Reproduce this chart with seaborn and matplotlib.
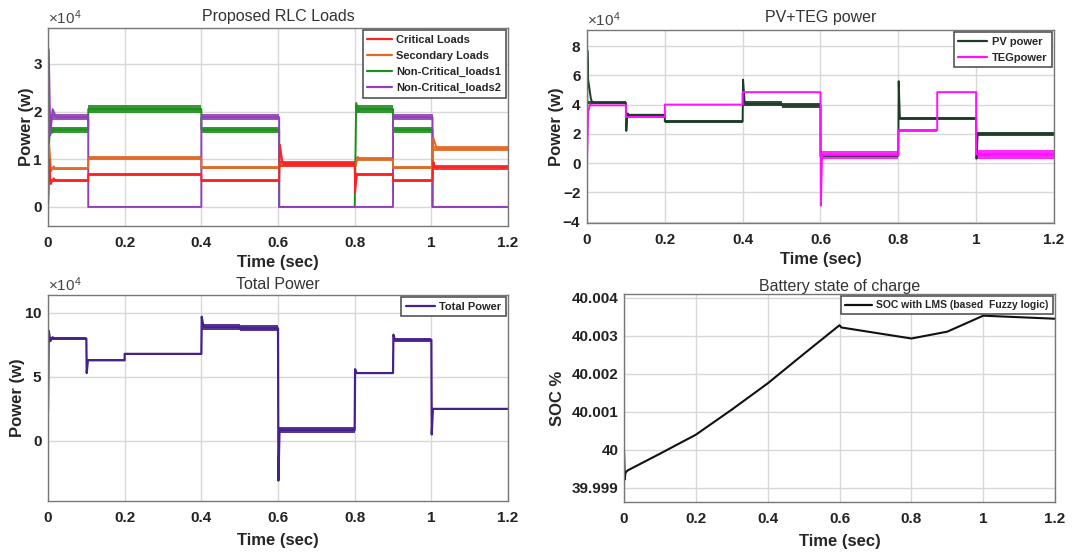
import numpy as np
import matplotlib
matplotlib.use("Agg")
import matplotlib.pyplot as plt
from matplotlib.ticker import FuncFormatter, ScalarFormatter
import seaborn as sns

# ---- data (power values in units of 1e4 W) ----
load_edges = [0, 0.105, 0.4, 0.603, 0.8, 0.9, 1.003, 1.2]

crit_lvl = [0.55, 0.68, 0.55, 0.90, 0.68, 0.55, 0.83]
crit_rip = [0.03, 0.03, 0.03, 0.06, 0.03, 0.03, 0.05]
crit_spk = {0: [(0, 0), (0.003, 1.0), (0.007, 0.48), (0.015, 0.6)],
            3: [(0.002, 1.3), (0.008, 0.95)],
            4: [(0.001, 0.3), (0.006, 0.7)],
            6: [(0.002, 0.95)]}

sec_lvl = [0.80, 1.02, 0.82, 0.90, 1.00, 0.82, 1.22]
sec_rip = [0.03, 0.04, 0.03, 0.05, 0.04, 0.03, 0.05]
sec_spk = {0: [(0, 0), (0.003, 1.3), (0.008, 0.75), (0.015, 0.85)],
           4: [(0.002, 0.85), (0.008, 1.05)],
           6: [(0.002, 1.45), (0.01, 1.25)]}

nc1_lvl = [1.62, 2.05, 1.62, 0, 2.05, 1.62, 0]
nc1_rip = [0.06, 0.08, 0.06, 0, 0.08, 0.06, 0]
nc1_spk = {0: [(0, 0), (0.003, 1.35), (0.006, 1.8), (0.01, 1.55)],
           4: [(0, 0), (0.004, 2.18), (0.01, 2.0)]}

nc2_lvl = [1.88, 0, 1.88, 0, 0, 1.88, 0]
nc2_rip = [0.06, 0, 0.06, 0, 0, 0.06, 0]
nc2_spk = {0: [(0, 0), (0.002, 3.3), (0.006, 1.5), (0.012, 2.05), (0.02, 1.9)]}

src_edges = [0, 0.1, 0.2, 0.4, 0.5, 0.6, 0.8, 0.9, 1.0, 1.2]

pv_lvl = [4.12, 3.30, 2.85, 4.05, 3.95, 0.50, 3.05, 3.05, 2.00]
pv_rip = [0.10, 0.08, 0.10, 0.18, 0.18, 0.10, 0.12, 0.12, 0.12]
pv_spk = {0: [(0, 0), (0.001, 7.7), (0.003, 5.7), (0.01, 4.4)],
          1: [(0.001, 2.2), (0.004, 3.4)],
          3: [(0.001, 5.7), (0.005, 4.2)],
          6: [(0.001, 5.6), (0.004, 3.1)],
          8: [(0.001, 0.3), (0.004, 2.0)]}

teg_lvl = [3.95, 3.15, 4.00, 4.85, 4.85, 0.55, 2.25, 4.85, 0.60]
teg_rip = [0.05, 0.05, 0.03, 0.03, 0.03, 0.25, 0.10, 0.03, 0.30]
teg_spk = {0: [(0, 0), (0.003, 3.5), (0.008, 4.0)],
           5: [(0.001, -2.9), (0.004, 0.5)]}

tot_lvl = [8.0, 6.3, 6.8, 8.9, 8.8, 0.85, 5.3, 7.9, 2.5]
tot_rip = [0.15, 0.06, 0.08, 0.22, 0.25, 0.22, 0.06, 0.15, 0.10]
tot_spk = {0: [(0, 2.3), (0.002, 8.6), (0.006, 7.8), (0.012, 8.1)],
           1: [(0.001, 5.3), (0.004, 6.3)],
           3: [(0.001, 9.7), (0.005, 9.0)],
           5: [(0.001, -3.1), (0.004, 0.9)],
           6: [(0.001, 5.6)],
           7: [(0.001, 8.3), (0.005, 7.9)],
           8: [(0.001, 0.5), (0.004, 2.5)]}

soc_t = [0, 0.002, 0.004, 0.01, 0.1, 0.2, 0.3, 0.4, 0.5, 0.6, 0.605, 0.8, 0.9, 1.0, 1.2]
soc_v = [40.0, 39.99922, 39.9994, 39.99946, 39.9999, 40.0004, 40.00106, 40.00175,
         40.00252, 40.00328, 40.00322, 40.00293, 40.00311, 40.00353, 40.00345]

x_ticks = [0, 0.2, 0.4, 0.6, 0.8, 1.0, 1.2]


def trace(edges, levels, spikes):
    t, p = [], []
    for i, lv in enumerate(levels):
        pts = spikes.get(i, [])
        for dt, v in pts:
            t.append(edges[i] + dt)
            p.append(v)
        settle = edges[i] + (pts[-1][0] + 0.004 if pts else 0)
        t.append(settle)
        p.append(lv)
        t.append(edges[i + 1])
        p.append(lv)
    return np.array(t), np.array(p) * 1e4


def draw(ax, edges, levels, rip, spikes, color, lw=1.4):
    lv = np.array(levels + [levels[-1]])
    rp = np.array(rip + [rip[-1]])
    ax.fill_between(edges, (lv - rp) * 1e4, (lv + rp) * 1e4, step="post",
                    color=color, lw=0, alpha=0.9)
    t, p = trace(edges, levels, spikes)
    sns.lineplot(x=t, y=p, ax=ax, color=color, lw=lw, sort=False,
                 estimator=None, legend=False)


def add_legend(ax, handles, labels, size, hlen, spacing=0.55):
    leg = ax.legend(handles, labels, loc="upper right",
                    handlelength=hlen, handletextpad=0.4, borderpad=0.4,
                    labelspacing=spacing, borderaxespad=0.2, fancybox=False,
                    framealpha=1, edgecolor="#555555",
                    prop={"family": ["Liberation Sans Narrow", "Liberation Sans"],
                          "weight": "bold", "size": size})
    leg.get_frame().set_linewidth(1.2)
    for line in leg.get_lines():
        line.set_linewidth(1.6)
    return leg


sns.set_theme(style="whitegrid")
plt.rcParams["font.family"] = ["Liberation Sans", "DejaVu Sans"]
plt.rcParams["mathtext.fontset"] = "custom"
plt.rcParams["mathtext.rm"] = "Liberation Sans"
plt.rcParams["axes.unicode_minus"] = False

fig = plt.figure(figsize=(10.86, 5.56), dpi=100)
ax1 = fig.add_axes([0.0442, 0.5935, 0.4236, 0.3561])
ax2 = fig.add_axes([0.5405, 0.5989, 0.4300, 0.3471])
ax3 = fig.add_axes([0.0442, 0.0989, 0.4236, 0.3705])
ax4 = fig.add_axes([0.5746, 0.0971, 0.3969, 0.3741])

# Proposed RLC loads
draw(ax1, load_edges, nc1_lvl, nc1_rip, nc1_spk, "#1e8f1e")
draw(ax1, load_edges, nc2_lvl, nc2_rip, nc2_spk, "#9040b8")
draw(ax1, load_edges, sec_lvl, sec_rip, sec_spk, "#e06a28")
draw(ax1, load_edges, crit_lvl, crit_rip, crit_spk, "#ff2222")
ax1.set_ylim(-0.4e4, 3.75e4)
ax1.set_yticks([0, 1e4, 2e4, 3e4])
ax1.set_title("Proposed RLC Loads", fontsize=11.5, pad=5, color="#333333")
lines = ax1.get_lines()
order = [3, 2, 0, 1]
add_legend(ax1, [lines[i] for i in order],
           ["Critical Loads", "Secondary Loads", "Non-Critical_loads1",
            "Non-Critical_loads2"], 8, 2.2)

# PV + TEG
draw(ax2, src_edges, pv_lvl, pv_rip, pv_spk, "#1b3d28")
draw(ax2, src_edges, teg_lvl, teg_rip, teg_spk, "#ff10ff")
ax2.set_ylim(-4.1e4, 9.1e4)
ax2.set_yticks(np.arange(-4, 9, 2) * 1e4)
ax2.set_title("PV+TEG power", fontsize=11.5, pad=6, color="#333333")
add_legend(ax2, ax2.get_lines(), ["PV power", "TEGpower"], 8, 2.6)

# Total power
draw(ax3, src_edges, tot_lvl, tot_rip, tot_spk, "#46208c", lw=1.6)
ax3.set_ylim(-4.7e4, 11.4e4)
ax3.set_yticks([0, 5e4, 10e4])
ax3.set_title("Total Power", fontsize=11.5, pad=4, color="#333333")
add_legend(ax3, ax3.get_lines(), ["Total Power"], 8, 2.6)

# battery SOC
sns.lineplot(x=soc_t, y=soc_v, ax=ax4, color="#111111", lw=1.5, sort=False,
             estimator=None, legend=False)
ax4.set_ylim(39.99863, 40.0041)
ax4.set_yticks([39.999, 40.0, 40.001, 40.002, 40.003, 40.004])
ax4.yaxis.set_major_formatter(FuncFormatter(lambda v, _: f"{round(v, 4):g}"))
ax4.set_title("Battery state of charge", fontsize=11.5, pad=2, color="#333333")
ax4.set_ylabel("SOC %", fontsize=12, fontweight="bold", labelpad=5)
add_legend(ax4, ax4.get_lines(), ["SOC with LMS (based  Fuzzy logic)"], 7.5, 2.6)

for ax in (ax1, ax2, ax3, ax4):
    ax.set_facecolor("white")
    ax.set_xlim(0, 1.2)
    ax.set_xticks(x_ticks)
    ax.xaxis.set_major_formatter(FuncFormatter(lambda v, _: f"{v:g}"))
    ax.set_xlabel("Time (sec)", fontsize=12, fontweight="bold", labelpad=4)
    ax.grid(True, color="#d8d8d8", lw=1.0)
    ax.tick_params(axis="x", labelsize=11, pad=7, length=0)
    ax.tick_params(axis="y", labelsize=11, pad=4, length=0)
    for lab in ax.get_xticklabels() + ax.get_yticklabels():
        lab.set_fontweight("bold")
        lab.set_color("#222222")
    for s in ax.spines.values():
        s.set_color("#777777")
        s.set_linewidth(1.0)
    if ax is not ax4:
        fmt = ScalarFormatter(useMathText=True)
        fmt.set_powerlimits((4, 4))
        ax.yaxis.set_major_formatter(fmt)
        ax.set_ylabel("Power (w)", fontsize=12, fontweight="bold", labelpad=-1)
        ax.yaxis.get_offset_text().set_fontsize(11)
        ax.yaxis.get_offset_text().set_color("#444444")

ax3.xaxis.labelpad = 6
ax4.xaxis.labelpad = 6

fig.savefig("out.png", dpi=100, facecolor="white")
